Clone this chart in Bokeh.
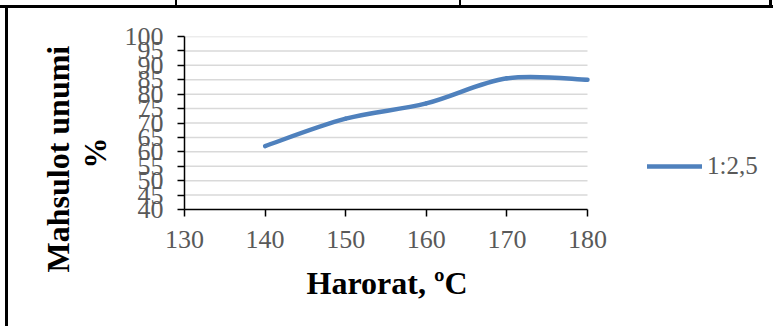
import math
from bokeh.plotting import figure
from bokeh.models import Range1d, Legend, LegendItem, FixedTicker, Title
from bokeh.embed import file_html
from bokeh.resources import INLINE

# ---- data ----
temps = [140, 150, 160, 170, 180]
yield_pct = [62, 71.5, 76.8, 85.5, 85]
series_name = "1:2,5"
x_ticks = [130, 140, 150, 160, 170, 180]
y_ticks = [40, 45, 50, 55, 60, 65, 70, 75, 80, 85, 90, 95, 100]
x_title = "Harorat, ºC"
y_title_main = "Mahsulot unumi"
y_title_unit = "%"

LINE_COLOR = "#4F81BD"
TICK_COLOR = "#595959"
SERIF = "Liberation Serif"

W, H = 776, 326
PLOT_L, PLOT_R, PLOT_T, PLOT_B = 184, 587, 36, 209   # visible chart area (px)
px_per_unit = (PLOT_R - PLOT_L) / (x_ticks[-1] - x_ticks[0])
# the frame is extended to the right edge so the legend can sit beside the chart
x_end = x_ticks[-1] + (W - PLOT_R) / px_per_unit

p = figure(width=W, height=H, output_backend="svg", toolbar_location=None,
           x_range=Range1d(x_ticks[0], x_end), y_range=Range1d(y_ticks[0], y_ticks[-1]),
           min_border_left=PLOT_L, min_border_right=0,
           min_border_top=PLOT_T, min_border_bottom=H - PLOT_B)
p.outline_line_color = None
p.background_fill_color = "white"
p.border_fill_alpha = 0
# table-cell borders of the source document, drawn as the element's background
bars = [
    (0, 5, 773, 3),    # top rule
    (5, 5, 3, 321),    # left rule
    (175, 0, 2, 6),    # column separators above the rule
    (459, 0, 2, 6),
    (769, 0, 3, 8),
]
p.styles = {
    "background": ", ".join(
        f"linear-gradient(#000, #000) {x}px {y}px / {w}px {h}px no-repeat"
        for (x, y, w, h) in bars) + ", #fff"
}

# axes
p.xaxis.ticker = FixedTicker(ticks=x_ticks)
p.yaxis.ticker = FixedTicker(ticks=y_ticks)
p.xaxis.bounds = (x_ticks[0], x_ticks[-1])
for ax in (p.xaxis[0], p.yaxis[0]):
    ax.axis_line_color = "black"
    ax.axis_line_width = 1.5
    ax.major_tick_line_color = "black"
    ax.major_tick_line_width = 1.5
    ax.major_tick_in = 0
    ax.major_tick_out = 7
    ax.minor_tick_line_color = None
    ax.major_label_text_font = SERIF
    ax.major_label_text_font_size = "26px"
    ax.major_label_text_color = TICK_COLOR
    ax.major_label_standoff = 14

# horizontal gridlines limited to the chart's x extent
p.xgrid.grid_line_color = None
p.ygrid.grid_line_color = None
gy = y_ticks[1:]
p.segment(x0=[x_ticks[0]] * len(gy), x1=[x_ticks[-1]] * len(gy), y0=gy, y1=gy,
          line_color="#D9D9D9", line_width=1.5, level="underlay")

# smooth (Excel-like) curve via cubic Bezier segments
n = len(temps)
x0, y0, x1, y1, cx0, cy0, cx1, cy1 = [], [], [], [], [], [], [], []
for i in range(n - 1):
    xm = temps[max(i - 1, 0)]; ym = yield_pct[max(i - 1, 0)]
    xa = temps[i]; ya = yield_pct[i]
    xb = temps[i + 1]; yb = yield_pct[i + 1]
    xp = temps[min(i + 2, n - 1)]; yp = yield_pct[min(i + 2, n - 1)]
    x0.append(xa); y0.append(ya); x1.append(xb); y1.append(yb)
    cx0.append(xa + (xb - xm) / 6); cy0.append(ya + (yb - ym) / 6)
    cx1.append(xb - (xp - xa) / 6); cy1.append(yb - (yp - ya) / 6)

bez = p.bezier(x0=x0, y0=y0, x1=x1, y1=y1, cx0=cx0, cy0=cy0, cx1=cx1, cy1=cy1,
               line_color=LINE_COLOR, line_width=4.5, line_cap="round")

legend = Legend(items=[LegendItem(label=series_name, renderers=[bez])],
                location=(647 - PLOT_L, 29), orientation="vertical")
legend.border_line_color = None
legend.background_fill_alpha = 0
legend.padding = 0
legend.margin = 0
legend.spacing = 0
legend.glyph_width = 55
legend.glyph_height = 20
legend.label_height = 20
legend.label_standoff = 5
legend.label_text_font = SERIF
legend.label_text_font_size = "25px"
legend.label_text_color = TICK_COLOR
p.add_layout(legend, "center")

# x-axis title
p.add_layout(Title(text=x_title, align="left", offset=122,
                   text_font=SERIF, text_font_style="bold",
                   text_font_size="32px", text_color="black", standoff=24), "below")

# y-axis title: two lines, added as left-side titles (inner line first)
p.add_layout(Title(text=y_title_unit, align="left", offset=41,
                   text_font=SERIF, text_font_style="bold",
                   text_font_size="31px", text_color="black", standoff=18), "left")
p.add_layout(Title(text=y_title_main, align="left", offset=-63,
                   text_font=SERIF, text_font_style="bold",
                   text_font_size="32px", text_color="black", standoff=-19), "left")

open("out.html", "w").write(file_html(p, INLINE))
